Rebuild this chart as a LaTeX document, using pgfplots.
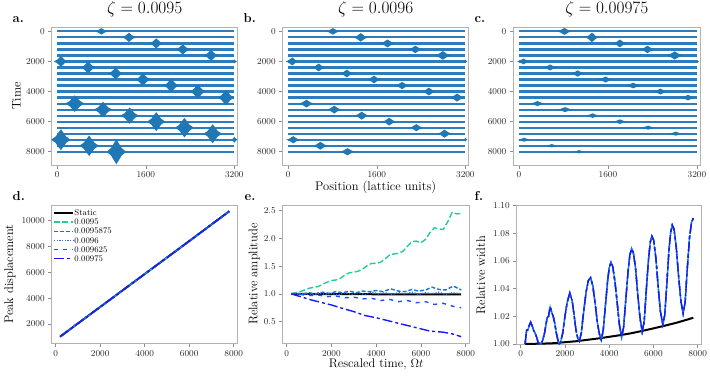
\documentclass[border=0pt]{standalone}
\usepackage{pgfplots}
\usepackage{pgfplotstable}
\pgfplotsset{compat=1.18}

\definecolor{tabblue}{RGB}{31,119,180}
\definecolor{rowblue}{RGB}{45,125,190}
\definecolor{cA}{RGB}{35,205,150}
\definecolor{cB}{RGB}{25,115,215}
\definecolor{cC}{RGB}{45,110,235}
\definecolor{cD}{RGB}{30,80,240}
\definecolor{cE}{RGB}{25,25,245}

% wave packet: diamond with thin tails, unit half-width and half-height
\pgfdeclareplotmark{blob}{%
  \pgfpathmoveto{\pgfqpoint{-1pt}{0pt}}%
  \pgfpathlineto{\pgfqpoint{-0.55pt}{0.3pt}}%
  \pgfpathlineto{\pgfqpoint{0pt}{1pt}}%
  \pgfpathlineto{\pgfqpoint{0.55pt}{0.3pt}}%
  \pgfpathlineto{\pgfqpoint{1pt}{0pt}}%
  \pgfpathlineto{\pgfqpoint{0.55pt}{-0.3pt}}%
  \pgfpathlineto{\pgfqpoint{0pt}{-1pt}}%
  \pgfpathlineto{\pgfqpoint{-0.55pt}{-0.3pt}}%
  \pgfpathclose
  \pgfusepathqfill
}

% packet position x, time t, half width w and half height h (pt)
\pgfplotstableread{
x t w h
798 0 6.9 3.2
1296 400 7.1 4.6
1788 800 7.1 5.0
2268 1200 7.5 5.0
2778 1600 7.8 5.3
66 2000 7.1 5.3
3200 2000 2.6 1.9
558 2400 7.8 5.8
1056 2800 7.8 5.8
1548 3200 7.8 6.3
2058 3600 8.0 6.7
2538 4000 8.0 7.2
3048 4400 8.4 7.8
318 4800 9.7 8.3
828 5200 9.1 7.8
1308 5600 9.1 8.2
1788 6000 9.1 9.5
2298 6400 9.4 9.8
2808 6800 9.1 9.5
66 7200 9.7 10.5
3200 7200 3.2 3.0
576 7600 9.7 10.2
1068 8000 9.7 12.5
}\blobsA

\pgfplotstableread{
x t w h
807 0 7.1 3.3
1310 400 7.5 4.3
1794 800 7.8 3.9
2296 1200 7.5 3.7
2793 1600 8.2 4.3
72 2000 6.5 4.0
3200 2000 2.0 1.7
550 2400 6.9 3.9
1058 2800 6.9 3.9
1549 3200 6.9 3.9
2057 3600 7.5 3.6
2541 4000 7.1 3.9
3050 4400 7.5 4.0
329 4800 7.8 3.9
831 5200 7.5 3.9
1328 5600 7.4 4.0
1824 6000 7.1 3.9
2314 6400 7.1 3.6
2823 6800 7.5 4.0
90 7200 7.1 3.6
3200 7200 2.0 1.7
580 7600 7.5 4.0
1070 8000 8.0 3.6
}\blobsB

\pgfplotstableread{
x t w h
818 0 7.5 3.5
1313 400 6.9 4.8
1815 800 7.1 3.9
2310 1200 7.5 3.7
2800 1600 8.4 4.1
84 2000 6.5 2.9
3200 2000 2.0 1.6
561 2400 7.1 3.0
1057 2800 6.9 3.2
1558 3200 7.5 3.0
2054 3600 8.2 2.8
2543 4000 7.5 2.9
3039 4400 7.4 2.8
334 4800 8.0 2.5
830 5200 8.0 2.5
1325 5600 7.1 2.3
1815 6000 7.1 2.3
2322 6400 7.5 2.0
2818 6800 7.5 2.0
96 7200 6.1 2.0
591 7600 6.5 1.7
1081 8000 5.8 1.7
}\blobsC

% lattice snapshots, one segment per time
\pgfplotstableread{
x t
0 0
3200 0
nan nan
0 400
3200 400
nan nan
0 800
3200 800
nan nan
0 1200
3200 1200
nan nan
0 1600
3200 1600
nan nan
0 2000
3200 2000
nan nan
0 2400
3200 2400
nan nan
0 2800
3200 2800
nan nan
0 3200
3200 3200
nan nan
0 3600
3200 3600
nan nan
0 4000
3200 4000
nan nan
0 4400
3200 4400
nan nan
0 4800
3200 4800
nan nan
0 5200
3200 5200
nan nan
0 5600
3200 5600
nan nan
0 6000
3200 6000
nan nan
0 6400
3200 6400
nan nan
0 6800
3200 6800
nan nan
0 7200
3200 7200
nan nan
0 7600
3200 7600
nan nan
0 8000
3200 8000
}\baselines

\pgfplotstableread{
t d
200 1030
1000 2050
2000 3320
3000 4590
4000 5860
5000 7130
6000 8400
7000 9680
7800 10700
}\peakdisp

\pgfplotstableread{
t a
200 1.000
2000 0.995
4000 0.993
6000 0.990
7800 0.990
}\ampS

\pgfplotstableread{
t a
200 1.00
400 1.02
600 1.04
800 1.07
1000 1.10
1200 1.12
1400 1.13
1600 1.17
1800 1.21
2000 1.24
2200 1.25
2400 1.28
2600 1.34
2800 1.38
3000 1.39
3200 1.41
3400 1.45
3600 1.51
3800 1.55
4000 1.55
4200 1.57
4400 1.63
4600 1.70
4800 1.72
5000 1.73
5200 1.77
5400 1.86
5600 1.94
5800 1.95
6000 1.92
6200 1.98
6400 2.10
6600 2.19
6800 2.17
7000 2.16
7200 2.30
7400 2.47
7600 2.44
7800 2.45
}\ampA

\pgfplotstableread{
t a
200 1.00
400 1.01
700 0.99
1000 1.02
1300 1.00
1600 1.03
1900 1.01
2200 1.04
2500 1.02
2800 1.05
3100 1.02
3400 1.05
3700 1.04
4000 1.06
4300 1.04
4650 1.09
5000 1.05
5300 1.04
5600 1.08
5900 1.05
6200 1.07
6500 1.12
6800 1.08
7100 1.07
7450 1.14
7800 1.07
}\ampB

\pgfplotstableread{
t a
200 1.00
500 0.99
800 1.01
1100 0.98
1400 1.02
1700 0.99
2000 1.01
2300 0.98
2600 1.02
2900 0.99
3200 1.02
3500 0.99
3800 1.03
4100 1.00
4400 1.02
4700 0.99
5000 1.02
5300 1.00
5600 1.03
5900 0.99
6200 1.02
6500 1.00
6800 1.03
7100 0.99
7400 1.02
7800 1.00
}\ampC

\pgfplotstableread{
t a
200 1.00
600 0.99
1000 0.97
1400 0.98
1800 0.95
2200 0.96
2600 0.93
3000 0.94
3400 0.91
3800 0.92
4200 0.88
4600 0.90
5000 0.86
5400 0.88
5800 0.84
6200 0.86
6600 0.81
7000 0.83
7400 0.78
7800 0.75
}\ampD

\pgfplotstableread{
t a
200 1.00
700 0.94
1100 0.89
1600 0.84
2000 0.80
2400 0.75
3000 0.68
3500 0.61
4000 0.57
4600 0.51
5000 0.47
5500 0.42
5900 0.38
6400 0.33
7000 0.31
7400 0.28
7800 0.23
}\ampE

\pgfplotstableread{
t w
200 1.0000
1000 1.0003
1400 1.0005
2000 1.0013
2500 1.0020
3000 1.0030
3500 1.0040
4000 1.0052
4500 1.0064
5000 1.0078
5500 1.0095
6000 1.0113
6500 1.0132
7000 1.0152
7500 1.0175
7800 1.0190
}\widS

\pgfplotstableread{
t w
200 1.000
240 1.006
270 1.010
320 1.010
380 1.013
450 1.016
520 1.013
580 1.010
650 1.008
720 1.005
790 1.001
850 1.000
920 1.000
1000 1.003
1080 1.008
1150 1.015
1200 1.019
1260 1.020
1330 1.027
1400 1.023
1470 1.020
1540 1.015
1610 1.008
1680 1.003
1740 1.000
1800 1.001
1900 1.008
2000 1.020
2100 1.030
2220 1.037
2330 1.031
2420 1.020
2500 1.010
2580 1.004
2650 1.002
2740 1.008
2850 1.024
2960 1.038
3060 1.046
3160 1.048
3260 1.042
3360 1.030
3460 1.016
3560 1.007
3640 1.003
3730 1.010
3830 1.028
3930 1.046
4000 1.055
4080 1.059
4160 1.056
4260 1.045
4360 1.030
4460 1.014
4560 1.005
4650 1.012
4750 1.032
4850 1.052
4930 1.064
5010 1.069
5090 1.066
5190 1.055
5290 1.036
5390 1.019
5490 1.009
5580 1.016
5680 1.040
5780 1.062
5860 1.074
5930 1.078
6010 1.075
6110 1.062
6210 1.042
6310 1.024
6420 1.014
6510 1.021
6610 1.045
6700 1.068
6780 1.081
6850 1.086
6930 1.083
7030 1.070
7130 1.050
7240 1.031
7340 1.022
7430 1.030
7530 1.055
7630 1.077
7720 1.088
7800 1.091
}\widP

\pgfplotsset{
  panel/.style={
    scale only axis,
    axis line style={draw=black!30, line width=0.7pt},
    tick align=outside,
    tick pos=left,
    major tick length=3.5pt,
    tick style={black!45, line width=0.6pt},
    ticklabel style={font=\fontsize{9.5}{10}\selectfont, text=black!85},
    label style={font=\fontsize{12.5}{13}\selectfont},
    title style={font=\fontsize{16}{16}\selectfont, at={(0.5,1)}, anchor=base,
      yshift=8pt, inner sep=0pt},
    scaled ticks=false,
    /pgf/number format/1000 sep={},
  },
  snap/.style={
    panel, width=186pt, height=138pt,
    xmin=-100, xmax=3260, ymin=-290, ymax=8880, y dir=reverse,
    xtick={0,1600,3200}, ytick={0,2000,4000,6000,8000},
  },
  evo/.style={
    panel, height=138.3pt,
    xmin=-180, xmax=8180, xtick={0,2000,4000,6000,8000},
  },
  rows/.style={rowblue, line width=2.2pt, unbounded coords=jump},
  packets/.style={
    scatter, only marks, mark=blob,
    visualization depends on={\thisrow{w} \as \bw},
    visualization depends on={\thisrow{h} \as \bh},
    scatter/use mapped color={draw=none, fill=tabblue},
    scatter/@pre marker code/.append code={\pgftransformxscale{\bw}\pgftransformyscale{\bh}},
  },
  sS/.style={black, line width=2pt},
  sA/.style={cA, line width=1.4pt, dash pattern=on 6pt off 2.5pt},
  sB/.style={cB, line width=1.4pt, dash pattern=on 4pt off 2pt},
  sC/.style={cC, line width=1.4pt, dash pattern=on 1.2pt off 1.5pt},
  sD/.style={cD, line width=1.4pt, dash pattern=on 4pt off 5pt},
  sE/.style={cE, line width=1.4pt, dash pattern=on 10pt off 3pt on 3pt off 3pt},
}

\begin{document}
\begin{tikzpicture}
\useasboundingbox (0pt,0pt) rectangle (710pt,-378pt);

% ---- a
\begin{axis}[snap, at={(51.7pt,-27pt)}, anchor=north west,
  title={$\zeta = 0.0095$}, ylabel={Time},
  ylabel style={at={(axis description cs:-0.167,0.5)}, anchor=base}]
\addplot[rows] table[x=x, y=t] {\baselines};
\addplot[packets] table[x=x, y=t] {\blobsA};
\end{axis}

% ---- b
\begin{axis}[snap, at={(282.7pt,-27pt)}, anchor=north west,
  title={$\zeta = 0.0096$}, xlabel={Position (lattice units)},
  xlabel style={at={(axis description cs:0.5,0)}, anchor=base, yshift=-25pt}]
\addplot[rows] table[x=x, y=t] {\baselines};
\addplot[packets] table[x=x, y=t] {\blobsB};
\end{axis}

% ---- c
\begin{axis}[snap, at={(513.3pt,-27pt)}, anchor=north west, width=187pt,
  title={$\zeta = 0.00975$}]
\addplot[rows] table[x=x, y=t] {\baselines};
\addplot[packets] table[x=x, y=t] {\blobsC};
\end{axis}

% ---- d
\begin{axis}[evo, at={(51.7pt,-205pt)}, anchor=north west, width=186pt,
  ymin=515, ymax=11185, ytick={2000,4000,6000,8000,10000},
  ylabel={Peak displacement},
  ylabel style={at={(axis description cs:-0.208,0.5)}, anchor=base},
  legend style={at={(0.0,0.98)}, anchor=north west, draw=none, fill=none,
    font=\fontsize{8.5}{8.5}\selectfont, row sep=1pt, inner sep=1pt,
    nodes={inner sep=0.5pt, text height=6.3pt, text depth=0.8pt}},
  legend cell align=left,
  legend image code/.code={\draw[#1] (0pt,0pt) -- (19pt,0pt);}]
\addplot[sS] table[x=t, y=d] {\peakdisp};
\addplot[sA] table[x=t, y=d] {\peakdisp};
\addplot[sB] table[x=t, y=d] {\peakdisp};
\addplot[sC] table[x=t, y=d] {\peakdisp};
\addplot[sD] table[x=t, y=d] {\peakdisp};
\addplot[sE] table[x=t, y=d] {\peakdisp};
\legend{Static, 0.0095, 0.0095875, 0.0096, 0.009625, 0.00975}
\end{axis}

% ---- e
\begin{axis}[evo, at={(282.7pt,-205pt)}, anchor=north west, width=187pt,
  ymin=0.11, ymax=2.60, ytick={0.5,1.0,1.5,2.0,2.5},
  yticklabel style={/pgf/number format/fixed, /pgf/number format/precision=1,
    /pgf/number format/fixed zerofill},
  ylabel={Relative amplitude},
  ylabel style={at={(axis description cs:-0.135,0.5)}, anchor=base},
  xlabel={Rescaled time, $\Omega t$},
  xlabel style={at={(axis description cs:0.5,0)}, anchor=base, yshift=-24.4pt}]
\addplot[sS] table[x=t, y=a] {\ampS};
\addplot[sA] table[x=t, y=a] {\ampA};
\addplot[sB] table[x=t, y=a] {\ampB};
\addplot[sC] table[x=t, y=a] {\ampC};
\addplot[sD] table[x=t, y=a] {\ampD};
\addplot[sE] table[x=t, y=a] {\ampE};
\end{axis}

% ---- f
\begin{axis}[evo, at={(516.7pt,-205.7pt)}, anchor=north west, width=185pt,
  ymin=1.0, ymax=1.1, ytick={1.00,1.02,1.04,1.06,1.08,1.10},
  yticklabel style={/pgf/number format/fixed, /pgf/number format/precision=2,
    /pgf/number format/fixed zerofill},
  ylabel={Relative width},
  ylabel style={at={(axis description cs:-0.171,0.5)}, anchor=base}]
\addplot[sS] table[x=t, y=w] {\widS};
\addplot[sA] table[x=t, y=w] {\widP};
\addplot[sB] table[x=t, y=w] {\widP};
\addplot[sC] table[x=t, y=w] {\widP};
\addplot[sD] table[x=t, y=w] {\widP};
\addplot[sE] table[x=t, y=w] {\widP};
\end{axis}

% panel letters
\begin{scope}[every node/.style={anchor=base west, inner sep=0pt, font=\fontsize{13}{13}\selectfont\bfseries}]
\node at (12.5pt,-22.3pt) {a.};
\node at (243.5pt,-22.3pt) {b.};
\node at (474.5pt,-22.3pt) {c.};
\node at (12.5pt,-200.6pt) {d.};
\node at (244.5pt,-200.6pt) {e.};
\node at (474.5pt,-200.6pt) {f.};
\end{scope}
\end{tikzpicture}
\end{document}
